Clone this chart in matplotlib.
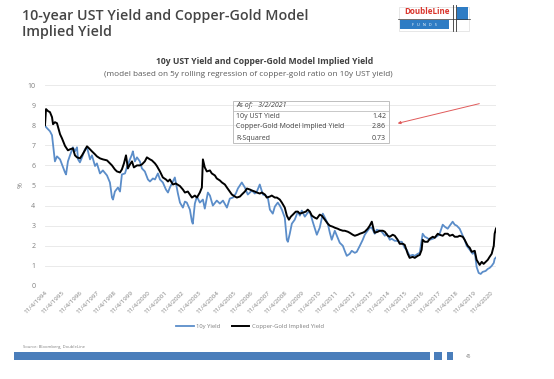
import matplotlib
matplotlib.use("Agg")
import matplotlib.pyplot as plt
from matplotlib.patches import Rectangle
from datetime import datetime, timedelta

plt.rcParams['font.family'] = ['Open Sans', 'DejaVu Sans']

# Data (decimal years, %)

black_years = [1994.84, 1994.90, 1995.02, 1995.13, 1995.25, 1995.31, 1995.42, 1995.54, 1995.72, 1995.83,
               1996.01, 1996.18, 1996.30, 1996.47, 1996.59, 1996.71, 1996.88, 1997.00, 1997.17, 1997.29,
               1997.41, 1997.58, 1997.76, 1997.87, 1998.05, 1998.22, 1998.46, 1998.63, 1998.75, 1998.92,
               1999.04, 1999.22, 1999.33, 1999.45, 1999.57, 1999.68, 1999.80, 1999.92, 2000.03, 2000.21,
               2000.38, 2000.50, 2000.67, 2000.79, 2000.97, 2001.08, 2001.26, 2001.37, 2001.55, 2001.72,
               2001.90, 2002.02, 2002.13, 2002.31, 2002.48, 2002.72, 2002.89, 2003.01, 2003.18, 2003.42,
               2003.59, 2003.71, 2003.88, 2004.00, 2004.06, 2004.17, 2004.29, 2004.47, 2004.58, 2004.76,
               2004.87, 2005.05, 2005.17, 2005.34, 2005.46, 2005.63, 2005.75, 2005.93, 2006.04, 2006.22,
               2006.33, 2006.51, 2006.63, 2006.80, 2006.92, 2007.09, 2007.21, 2007.38, 2007.50, 2007.68,
               2007.79, 2007.97, 2008.08, 2008.26, 2008.38, 2008.55, 2008.67, 2008.84, 2008.96, 2009.08,
               2009.19, 2009.31, 2009.48, 2009.60, 2009.72, 2009.89, 2010.07, 2010.18, 2010.30, 2010.42,
               2010.59, 2010.71, 2010.88, 2011.00, 2011.18, 2011.35, 2011.47, 2011.64, 2011.76, 2011.93,
               2012.05, 2012.23, 2012.34, 2012.52, 2012.63, 2012.81, 2012.93, 2013.10, 2013.22, 2013.39,
               2013.51, 2013.68, 2013.80, 2013.92, 2014.03, 2014.09, 2014.27, 2014.38, 2014.56, 2014.68,
               2014.85, 2014.97, 2015.14, 2015.26, 2015.43, 2015.55, 2015.73, 2015.84, 2016.02, 2016.13,
               2016.31, 2016.43, 2016.60, 2016.72, 2016.83, 2016.89, 2017.01, 2017.18, 2017.30, 2017.48,
               2017.59, 2017.77, 2017.88, 2018.06, 2018.18, 2018.35, 2018.47, 2018.64, 2018.76, 2018.93,
               2019.05, 2019.23, 2019.34, 2019.52, 2019.64, 2019.75, 2019.93, 2020.04, 2020.22, 2020.34,
               2020.45, 2020.57, 2020.69, 2020.80, 2020.92, 2021.04, 2021.09, 2021.17]
black_vals = [8.0, 8.8, 8.7, 8.65, 8.4, 8.05, 8.15, 8.1, 7.55, 7.35,
              6.97, 6.75, 6.8, 6.85, 6.5, 6.4, 6.35, 6.5, 6.75, 6.95,
              6.85, 6.7, 6.55, 6.45, 6.35, 6.3, 6.25, 6.1, 6.0, 5.8,
              5.7, 5.65, 5.8, 6.1, 6.5, 5.85, 6.05, 6.2, 5.9, 6.0,
              6.0, 6.05, 6.2, 6.4, 6.3, 6.25, 6.1, 5.97, 5.7, 5.4,
              5.3, 5.2, 5.3, 5.05, 5.1, 4.97, 4.8, 4.65, 4.7, 4.4,
              4.5, 4.4, 4.65, 4.9, 6.3, 5.9, 5.7, 5.75, 5.6, 5.5,
              5.35, 5.25, 5.15, 5.05, 4.9, 4.7, 4.55, 4.45, 4.4, 4.45,
              4.55, 4.7, 4.85, 4.8, 4.75, 4.7, 4.65, 4.6, 4.65, 4.55,
              4.4, 4.45, 4.5, 4.4, 4.4, 4.3, 4.15, 3.9, 3.5, 3.3,
              3.45, 3.55, 3.7, 3.7, 3.6, 3.65, 3.7, 3.8, 3.7, 3.5,
              3.4, 3.35, 3.55, 3.5, 3.3, 3.1, 3.0, 2.95, 2.9, 2.85,
              2.8, 2.75, 2.75, 2.7, 2.65, 2.55, 2.5, 2.55, 2.6, 2.65,
              2.7, 2.85, 3.0, 3.2, 2.8, 2.65, 2.7, 2.75, 2.75, 2.7,
              2.5, 2.45, 2.55, 2.5, 2.3, 2.1, 2.1, 2.05, 1.6, 1.4,
              1.45, 1.4, 1.5, 1.55, 1.8, 2.3, 2.2, 2.2, 2.35, 2.45,
              2.4, 2.6, 2.55, 2.5, 2.6, 2.6, 2.5, 2.55, 2.45, 2.45,
              2.5, 2.45, 2.3, 2.0, 1.9, 1.7, 1.75, 1.3, 1.05, 1.2,
              1.1, 1.2, 1.3, 1.45, 1.6, 2.0, 2.6, 2.86]

blue_years = [1994.84, 1994.96, 1995.13, 1995.25, 1995.31, 1995.42, 1995.54, 1995.72, 1995.83, 1996.01,
              1996.07, 1996.18, 1996.30, 1996.47, 1996.59, 1996.71, 1996.77, 1996.88, 1997.00, 1997.17,
              1997.29, 1997.47, 1997.58, 1997.76, 1997.87, 1998.05, 1998.22, 1998.46, 1998.63, 1998.75,
              1998.81, 1998.92, 1999.10, 1999.22, 1999.33, 1999.51, 1999.62, 1999.80, 1999.92, 1999.97,
              2000.09, 2000.21, 2000.38, 2000.50, 2000.67, 2000.85, 2000.97, 2001.14, 2001.26, 2001.43,
              2001.55, 2001.72, 2001.90, 2002.02, 2002.13, 2002.25, 2002.42, 2002.60, 2002.72, 2002.89,
              2003.01, 2003.12, 2003.30, 2003.42, 2003.47, 2003.59, 2003.71, 2003.88, 2004.06, 2004.17,
              2004.35, 2004.47, 2004.64, 2004.87, 2005.05, 2005.23, 2005.46, 2005.63, 2005.81, 2005.98,
              2006.10, 2006.33, 2006.51, 2006.68, 2006.92, 2007.09, 2007.21, 2007.38, 2007.56, 2007.73,
              2007.85, 2007.97, 2008.14, 2008.26, 2008.43, 2008.55, 2008.67, 2008.84, 2008.96, 2009.02,
              2009.13, 2009.25, 2009.42, 2009.60, 2009.72, 2009.83, 2010.01, 2010.18, 2010.30, 2010.47,
              2010.71, 2010.88, 2011.06, 2011.18, 2011.35, 2011.47, 2011.58, 2011.76, 2011.93, 2012.05,
              2012.23, 2012.34, 2012.46, 2012.63, 2012.75, 2012.93, 2013.04, 2013.22, 2013.39, 2013.51,
              2013.63, 2013.80, 2013.92, 2014.09, 2014.21, 2014.38, 2014.50, 2014.68, 2014.79, 2014.97,
              2015.08, 2015.26, 2015.38, 2015.55, 2015.67, 2015.84, 2015.96, 2016.13, 2016.31, 2016.43,
              2016.60, 2016.72, 2016.89, 2017.01, 2017.13, 2017.30, 2017.48, 2017.59, 2017.77, 2017.88,
              2018.06, 2018.18, 2018.35, 2018.47, 2018.64, 2018.76, 2018.88, 2019.05, 2019.23, 2019.34,
              2019.46, 2019.64, 2019.81, 2019.93, 2020.04, 2020.16, 2020.28, 2020.39, 2020.57, 2020.69,
              2020.80, 2020.92, 2021.04, 2021.09, 2021.17]
blue_vals = [7.97, 7.85, 7.7, 7.5, 7.05, 6.2, 6.45, 6.3, 6.05, 5.65,
             5.55, 6.2, 6.5, 6.9, 6.7, 6.9, 6.3, 6.15, 6.4, 6.8,
             6.9, 6.3, 6.5, 5.97, 6.1, 5.6, 5.75, 5.5, 5.15, 4.4,
             4.3, 4.7, 4.9, 4.7, 5.55, 5.6, 5.9, 6.3, 6.55, 6.7,
             6.2, 6.4, 6.2, 5.85, 5.7, 5.3, 5.2, 5.35, 5.3, 5.6,
             5.3, 5.15, 4.8, 4.65, 4.9, 5.1, 5.4, 4.6, 4.15, 3.9,
             4.2, 4.15, 3.8, 3.2, 3.1, 4.1, 4.45, 4.15, 4.3, 3.85,
             4.65, 4.5, 4.0, 4.25, 4.1, 4.25, 3.9, 4.35, 4.4, 4.6,
             4.85, 5.15, 4.9, 4.55, 4.75, 4.6, 4.7, 5.05, 4.55, 4.5,
             4.4, 3.8, 3.6, 3.95, 4.15, 4.0, 3.8, 3.4, 2.3, 2.2,
             2.6, 3.1, 3.3, 3.7, 3.5, 3.75, 3.45, 3.65, 3.7, 3.2,
             2.55, 2.9, 3.6, 3.4, 3.1, 2.65, 2.3, 2.75, 2.4, 2.15,
             2.0, 1.75, 1.5, 1.6, 1.75, 1.65, 1.7, 2.0, 2.3, 2.55,
             2.7, 2.9, 2.9, 2.6, 2.8, 2.75, 2.7, 2.5, 2.6, 2.3,
             2.35, 2.25, 2.25, 2.2, 2.2, 1.9, 1.8, 1.5, 1.55, 1.5,
             1.6, 1.65, 2.6, 2.45, 2.4, 2.3, 2.35, 2.4, 2.5, 2.6,
             3.05, 2.95, 2.85, 3.0, 3.2, 3.05, 3.0, 2.85, 2.5, 2.3,
             2.0, 1.8, 1.6, 1.7, 0.95, 0.65, 0.6, 0.7, 0.75, 0.85,
             0.9, 1.0, 1.15, 1.35, 1.42]

tick_years = list(range(1994, 2021))
table_labels = ['10y UST Yield', 'Copper-Gold Model Implied Yield', 'R-Squared']
table_values = ['1.42', '2.86', '0.73']
as_of = '3/2/2021'


def to_date(y):
    return datetime(int(y), 1, 1) + timedelta(days=(y % 1) * 365.25)


black_dates = [to_date(y) for y in black_years]
blue_dates = [to_date(y) for y in blue_years]

# Figure / chart

fig = plt.figure(figsize=(5.54, 3.79), dpi=100)
fig.patch.set_facecolor('white')
ax = fig.add_axes([45/554, 1-286/379, 451/554, 201/379])

l1, = ax.plot(blue_dates, blue_vals, color='#5B8DC9', lw=1.3, label='10y Yield')
l2, = ax.plot(black_dates, black_vals, color='black', lw=1.4, label='Copper-Gold Implied Yield')

ax.set_ylim(0, 10)
ax.set_yticks(range(0, 11))
ax.set_xlim(to_date(1994.84), to_date(2021.17))
ax.set_xticks([datetime(y, 11, 4) for y in tick_years])
ax.set_xticklabels(['11/4/%d' % y for y in tick_years], rotation=45, ha='right', va='top',
                   rotation_mode='anchor', fontsize=4.5, color='#7f7f7f')
ax.tick_params(axis='both', length=0, pad=3)
ax.tick_params(axis='y', labelsize=5, labelcolor='#7f7f7f', pad=7)
ax.grid(axis='y', color='#e6e6e6', lw=0.6)
for s in ax.spines.values():
    s.set_visible(False)
ax.set_ylabel('%', fontsize=5, color='#7f7f7f', labelpad=2)

fig.legend(handles=[l1, l2], loc='center', bbox_to_anchor=(250/554, 1-326/379), ncol=2,
           frameon=False, fontsize=4.2, handlelength=3, handletextpad=0.4, columnspacing=2,
           labelcolor='#7f7f7f')

# Overlay in pixel coords for the slide decorations

ov = fig.add_axes([0, 0, 1, 1])
ov.set_xlim(0, 554)
ov.set_ylim(379, 0)
ov.axis('off')
ov.patch.set_alpha(0)

ov.text(22, 9, '10-year UST Yield and Copper-Gold Model\nImplied Yield', fontsize=10.3,
        fontweight='semibold', color='#454545', va='top', ha='left', linespacing=1.2)
ov.text(265, 62, '10y UST Yield and Copper-Gold Model Implied Yield', fontsize=6.2, fontweight='bold',
        color='#404040', ha='center', va='center')
ov.text(248, 75, '(model based on 5y rolling regression of copper-gold ratio on 10y UST yield)',
        fontsize=5.9, color='#595959', ha='center', va='center')

# logo
ov.add_patch(Rectangle((399, 7), 70, 24, fill=False, ec='#dddddd', lw=0.5))
ov.text(427, 12, 'DoubleLine', fontsize=5.8, fontweight='bold', color='#d9342b', ha='center', va='center')
ov.add_patch(Rectangle((400, 20), 49, 9, color='#2e7cc4', lw=0))
ov.text(424, 24.5, 'F   U   N   D   S', fontsize=2.8, color='white', ha='center', va='center')
ov.add_patch(Rectangle((457, 7), 11, 13, color='#2e7cc4', lw=0))
ov.plot([453, 453], [5, 31], color='#333333', lw=0.6)
ov.plot([456, 456], [5, 31], color='#333333', lw=0.6)
ov.plot([398, 470], [19, 19], color='#333333', lw=0.5)

# stats table
ov.add_patch(Rectangle((233, 101), 156, 42, fill=False, ec='#bfbfbf', lw=0.7))
ov.plot([233, 389], [110.5, 110.5], color='#bfbfbf', lw=0.6)
ov.text(236, 105.5, 'As of:   ' + as_of, fontsize=5, style='italic', color='#404040', va='center')
for i, (lab, val) in enumerate(zip(table_labels, table_values)):
    ov.text(236, 116 + 11*i, lab, fontsize=5, color='#404040', va='center')
    ov.text(386, 116 + 11*i, val, fontsize=5, color='#404040', va='center', ha='right')
ov.annotate('', xy=(395, 124), xytext=(482, 103),
            arrowprops=dict(arrowstyle='-|>', color='#e05a5a', lw=0.7, mutation_scale=4))

# footer
ov.text(23, 347, 'Source: Bloomberg, DoubleLine', fontsize=3, color='#7f7f7f', va='center')
ov.add_patch(Rectangle((14, 352), 416, 8, color='#4a7ebb', lw=0))
ov.add_patch(Rectangle((434, 352), 8, 8, color='#4a7ebb', lw=0))
ov.add_patch(Rectangle((447, 352), 6, 8, color='#4a7ebb', lw=0))
ov.text(466, 356, '45', fontsize=3.3, color='#7f7f7f', va='center')

plt.savefig('out.png', dpi=100)
